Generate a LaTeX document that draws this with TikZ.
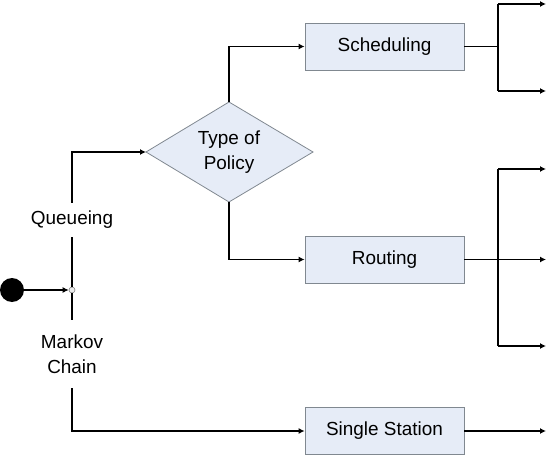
\documentclass[tikz,border=0pt]{standalone}
\usepackage{fontspec}
\setmainfont{Liberation Sans}
\usetikzlibrary{arrows.meta}
\definecolor{boxfill}{HTML}{E6ECF7}
\definecolor{boxline}{HTML}{808890}
\begin{document}
\begin{tikzpicture}[x=1bp,y=-1bp,
  every node/.style={font=\fontsize{19}{25}\selectfont},
  box/.style={draw=boxline,fill=boxfill,line width=0.8bp,minimum width=159bp,minimum height=47bp,inner sep=0pt},
  lbl/.style={inner sep=0pt,align=center},
  conn/.style={line width=1.3bp,black},
  arr/.style={conn,-{Latex[length=6bp,width=6bp]}}]
\useasboundingbox (0,0) rectangle (547,456);
% start and junction
\node[circle,fill=black,minimum size=24bp,inner sep=0pt] (start) at (12,290) {};
\node[circle,draw=gray,fill=gray!15,line width=0.6bp,minimum size=6bp,inner sep=0pt] (junc) at (72,290) {};
% labels
\node[lbl,minimum height=34bp] (queue) at (72,220) {Queueing};
\node[lbl,minimum height=68bp] (markov) at (72,354) {Markov\\Chain};
% diamond
\coordinate (dl) at (146,152);
\coordinate (dr) at (313,152);
\coordinate (dt) at (229,102);
\coordinate (db) at (229,202);
\draw[boxline,fill=boxfill,line width=0.8bp] (dl) -- (dt) -- (dr) -- (db) -- cycle;
\node[lbl] (policy) at (229,152) {Type of\\Policy};
% boxes
\node[box] (sched) at (384.5,46.5) {Scheduling};
\node[box] (rout) at (384.5,259.5) {Routing};
\node[box] (single) at (384.5,431) {Single Station};
% left connectors
\draw[arr] (start) -- (junc);
\draw[conn] (junc) -- (queue);
\draw[arr] (queue.north) |- (dl);
\draw[conn] (junc) -- (markov);
\draw[arr] (markov.south) |- (single.west);
\draw[arr] (dt) |- (sched.west);
\draw[arr] (db) |- (rout.west);
% right branches of scheduling
\coordinate (s1) at (498,4);
\coordinate (s2) at (498,91);
\coordinate (se1) at (546,4);
\coordinate (se2) at (546,91);
\draw[conn] (sched.east) -- (sched.east -| s1);
\draw[conn] (s1) -- (s2);
\draw[arr] (s1) -- (se1);
\draw[arr] (s2) -- (se2);
% right branches of routing
\coordinate (r1) at (498,169);
\coordinate (r3) at (498,346);
\coordinate (re1) at (546,169);
\coordinate (re2) at (546,259.5);
\coordinate (re3) at (546,346);
\draw[conn] (r1) -- (r3);
\draw[arr] (rout.east) -- (re2);
\draw[arr] (r1) -- (re1);
\draw[arr] (r3) -- (re3);
% single station
\coordinate (ss) at (546,431);
\draw[arr] (single.east) -- (ss);
\end{tikzpicture}
\end{document}
